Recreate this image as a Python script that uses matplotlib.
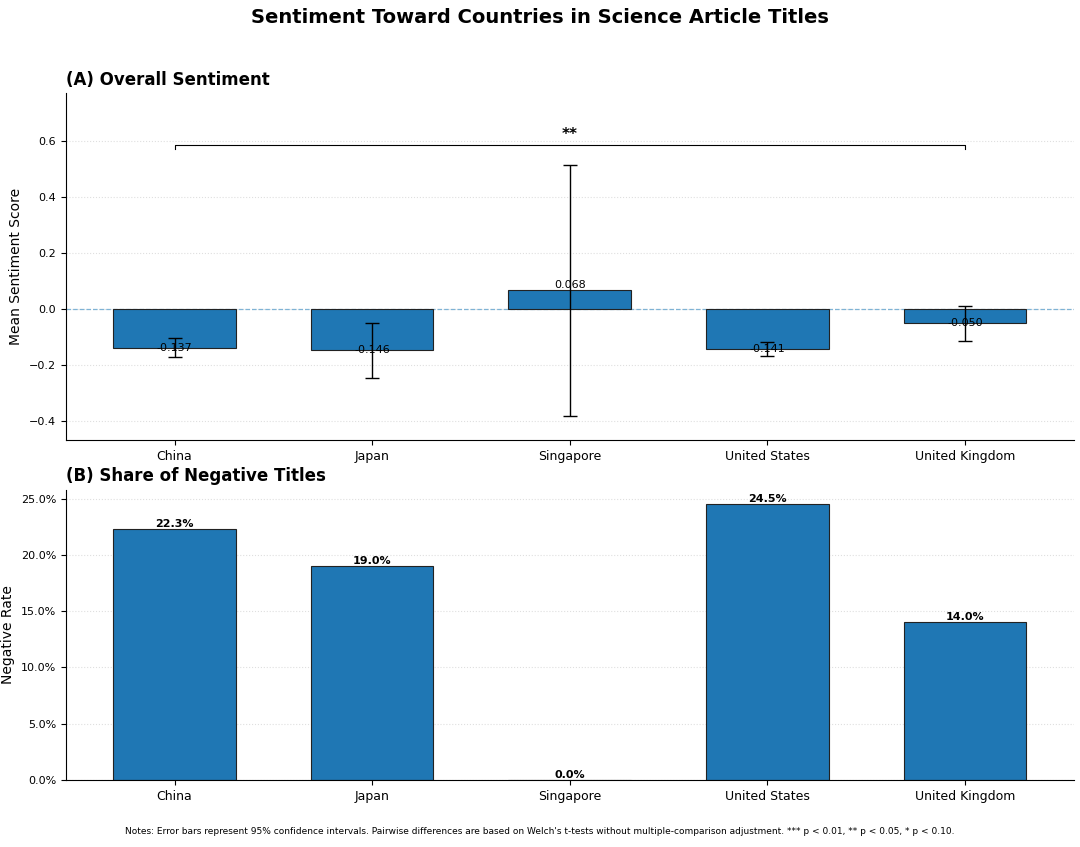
import matplotlib
matplotlib.use("Agg")
import matplotlib.pyplot as plt
import numpy as np

countries = ["China", "Japan", "Singapore", "United States", "United Kingdom"]
mean_sent = [-0.137, -0.146, 0.068, -0.141, -0.050]
ci_low = [-0.170, -0.245, -0.380, -0.165, -0.112]
ci_high = [-0.102, -0.048, 0.515, -0.116, 0.012]
neg_rate = [0.223, 0.190, 0.000, 0.245, 0.140]

color = "#1f77b4"
x = np.arange(len(countries))

fig = plt.figure(figsize=(10.8, 8.47), dpi=100)
ax1 = fig.add_axes([0.061, 0.480, 0.933, 0.410])
ax2 = fig.add_axes([0.061, 0.079, 0.933, 0.343])
fig.suptitle("Sentiment Toward Countries in Science Article Titles",
             fontsize=14, fontweight="bold", y=0.99)

# panel A
err = [np.array(mean_sent) - np.array(ci_low), np.array(ci_high) - np.array(mean_sent)]
ax1.bar(x, mean_sent, width=0.62, color=color, edgecolor="#222222", linewidth=0.8, zorder=2)
ax1.errorbar(x, mean_sent, yerr=err, fmt="none", ecolor="black", capsize=5, linewidth=1, zorder=3)
ax1.axhline(0, color="#7fb3d5", linestyle="--", linewidth=0.9, zorder=1)
for xi, v in zip(x, mean_sent):
    ax1.text(xi, v, f"{v:.3f}", ha="center", va="center" if v < 0 else "bottom", fontsize=8)
ax1.set_ylim(-0.468, 0.771)
ax1.set_yticks([-0.4, -0.2, 0.0, 0.2, 0.4, 0.6])
ax1.set_xticks(x)
ax1.set_xticklabels(countries, fontsize=9)
ax1.tick_params(axis="y", labelsize=8)
ax1.set_ylabel("Mean Sentiment Score", fontsize=10)
ax1.set_title("(A) Overall Sentiment", loc="left", fontsize=12, fontweight="bold")
ax1.grid(axis="y", linestyle=":", alpha=0.4, zorder=0)
ax1.set_axisbelow(True)
by = 0.585
ax1.plot([0, 0, 4, 4], [by - 0.012, by, by, by - 0.012], color="black", linewidth=0.8)
ax1.text(2, by + 0.01, "**", ha="center", va="bottom", fontsize=11, fontweight="bold")

# panel B
ax2.bar(x, neg_rate, width=0.62, color=color, edgecolor="#222222", linewidth=0.8, zorder=2)
for xi, v in zip(x, neg_rate):
    ax2.text(xi, v, f"{v*100:.1f}%", ha="center", va="bottom", fontsize=8, fontweight="bold")
ax2.set_ylim(0, 0.258)
ax2.set_yticks([0, 0.05, 0.10, 0.15, 0.20, 0.25])
ax2.set_yticklabels([f"{t*100:.1f}%" for t in [0, 0.05, 0.10, 0.15, 0.20, 0.25]])
ax2.set_xticks(x)
ax2.set_xticklabels(countries, fontsize=9)
ax2.tick_params(axis="y", labelsize=8)
ax2.set_ylabel("Negative Rate", fontsize=10)
ax2.set_title("(B) Share of Negative Titles", loc="left", fontsize=12, fontweight="bold")
ax2.grid(axis="y", linestyle=":", alpha=0.4, zorder=0)
ax2.set_axisbelow(True)

for ax in (ax1, ax2):
    ax.spines["top"].set_visible(False)
    ax.spines["right"].set_visible(False)
    ax.set_xlim(-0.55, 4.55)

fig.text(0.5, 0.015, "Notes: Error bars represent 95% confidence intervals. Pairwise differences are based on "
         "Welch's t-tests without multiple-comparison adjustment. *** p < 0.01, ** p < 0.05, * p < 0.10.",
         ha="center", fontsize=6.5)

fig.savefig("out.png", dpi=100)
